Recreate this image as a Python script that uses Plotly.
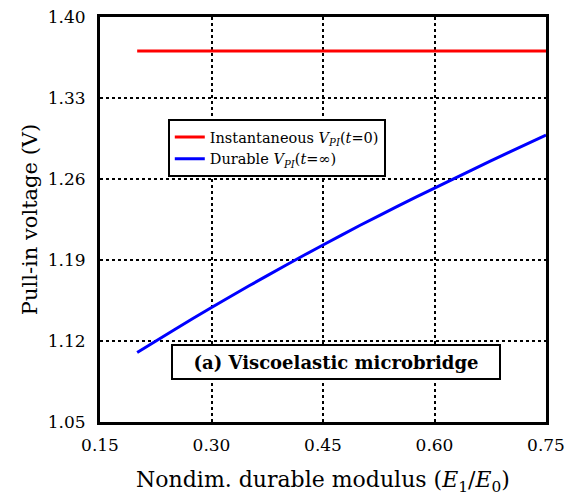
import plotly.graph_objects as go

x_inst = [0.20, 0.75]
y_inst = [1.3706, 1.3706]

x_dur = [0.20, 0.25, 0.30, 0.35, 0.40, 0.45, 0.50, 0.55, 0.60, 0.65, 0.70, 0.75]
y_dur = [1.110, 1.1297, 1.149, 1.1675, 1.1855, 1.203, 1.220, 1.2363, 1.2522, 1.2677, 1.283, 1.298]

x_ticks = [0.15, 0.30, 0.45, 0.60, 0.75]
y_ticks = [1.05, 1.12, 1.19, 1.26, 1.33, 1.40]

FONT = "DejaVu Serif"

fig = go.Figure()
fig.add_trace(go.Scatter(x=x_inst, y=y_inst, mode="lines",
                         line=dict(color="#ff0000", width=3),
                         name="Instantaneous <i>V</i><sub><i>PI</i></sub>(<i>t</i>=0)"))
fig.add_trace(go.Scatter(x=x_dur, y=y_dur, mode="lines",
                         line=dict(color="#0000ff", width=3, shape="spline", smoothing=0.6),
                         name="Durable <i>V</i><sub><i>PI</i></sub>(<i>t</i>=∞)"))

fig.update_layout(
    width=567, height=498,
    margin=dict(l=100, r=21, t=17, b=76),
    paper_bgcolor="white", plot_bgcolor="white",
    font=dict(family=FONT, size=17, color="black"),
    showlegend=True,
    legend=dict(x=0.152, y=0.748, xanchor="left", yanchor="top",
                bgcolor="white", bordercolor="black", borderwidth=2,
                font=dict(family=FONT, size=14.5), tracegroupgap=0,
                itemwidth=30),
    xaxis=dict(range=[0.15, 0.75], tickvals=x_ticks,
               ticktext=["%.2f" % v for v in x_ticks],
               showgrid=True, gridcolor="black", griddash="dot", gridwidth=2,
               showline=True, linecolor="black", linewidth=3, mirror=True,
               ticks="", zeroline=False, automargin=False, ticklabelstandoff=6,
               title=dict(text="Nondim. durable modulus (<i>E</i><sub>1</sub>/<i>E</i><sub>0</sub>)",
                          font=dict(size=22), standoff=18),
               tickfont=dict(size=17)),
    yaxis=dict(range=[1.05, 1.40], tickvals=y_ticks,
               ticktext=["%.2f" % v for v in y_ticks],
               showgrid=True, gridcolor="black", griddash="dot", gridwidth=2,
               showline=True, linecolor="black", linewidth=3, mirror=True,
               ticks="", zeroline=False, automargin=False, ticklabelstandoff=8,
               title=dict(text="Pull-in voltage (V)", font=dict(size=21), standoff=5),
               tickfont=dict(size=17)),
)

fig.add_annotation(xref="paper", yref="paper", x=0.529, y=0.104,
                   text="<b>(a) Viscoelastic microbridge</b>", showarrow=False,
                   font=dict(family=FONT, size=18, color="black"),
                   bgcolor="white", bordercolor="black", borderwidth=2,
                   borderpad=4, width=318, height=24)

fig.write_html("out.html")
